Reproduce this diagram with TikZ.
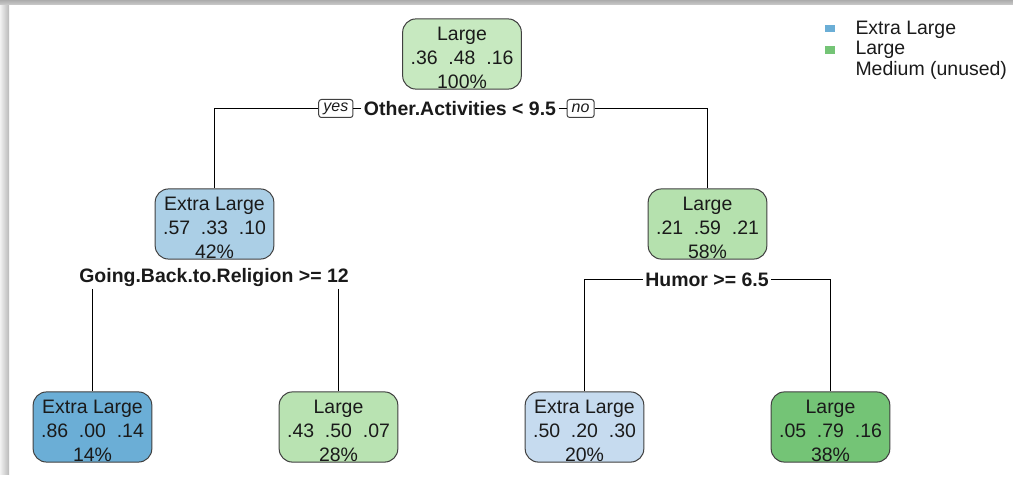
\documentclass[tikz,border=0pt]{standalone}
\usepackage{fontspec}
\setmainfont{Liberation Sans}
\usetikzlibrary{positioning}
\definecolor{ink}{HTML}{1A1A1A}
\definecolor{boxline}{HTML}{404040}
\definecolor{grnroot}{HTML}{C7E9C0}
\definecolor{grnmid}{HTML}{B5E1AE}
\definecolor{grnleaf}{HTML}{B9E3B2}
\definecolor{grndark}{HTML}{74C476}
\definecolor{bluemid}{HTML}{ABCFE6}
\definecolor{bluedark}{HTML}{6BAED6}
\definecolor{bluepale}{HTML}{C6DBEF}
\newcommand\toprow{\rule{0pt}{16.5pt}}

\begin{document}
\begin{tikzpicture}[x=0.75pt,y=-0.75pt,line width=0.75pt,
    box/.style={draw=boxline,rounded corners=10pt,minimum width=89pt,minimum height=50pt,
      inner sep=0pt,align=center,text=ink,font=\fontsize{14.6pt}{18pt}\selectfont},
    split/.style={fill=white,inner xsep=1.5pt,inner ysep=1pt,text=ink,
      font=\bfseries\fontsize{14.6pt}{17pt}\selectfont},
    tag/.style={draw=boxline,fill=white,rounded corners=2pt,inner xsep=3.5pt,inner ysep=0pt,
      minimum height=13.5pt,text=ink,font=\itshape\fontsize{12pt}{14pt}\selectfont},
    key/.style={anchor=west,inner sep=0pt,text=ink,font=\fontsize{14.6pt}{17pt}\selectfont}]
    \useasboundingbox (0,0) rectangle (1013,481);
    % frame shadow
    \shade[left color=gray!10,right color=gray!55] (0,0) rectangle (9,474);
    \shade[top color=gray!65,bottom color=gray!40] (0,0) rectangle (1013,5);

    % tree
    \node[box,fill=grnroot] (root) at (462,54) {\toprow Large\\.36\ \ .48\ \ .16\\100\%};
    \node[split] (otheract) at (460,108.5) {Other.Activities < 9.5};
    \node[tag,left=6pt of otheract] (yes) {yes};
    \node[tag,right=6pt of otheract] (no) {no};
    \node[box,fill=bluemid] (xl42) at (214.5,224) {\toprow Extra Large\\.57\ \ .33\ \ .10\\42\%};
    \node[box,fill=grnmid] (lg58) at (707.5,224) {\toprow Large\\.21\ \ .59\ \ .21\\58\%};
    \node[split] (religion) at (214,278) {Going.Back.to.Religion >= 12};
    \node[split] (humor) at (707,279.5) {Humor >= 6.5};
    \node[box,fill=bluedark] (xl14) at (92.5,427) {\toprow Extra Large\\.86\ \ .00\ \ .14\\14\%};
    \node[box,fill=grnleaf] (lg28) at (338.5,427) {\toprow Large\\.43\ \ .50\ \ .07\\28\%};
    \node[box,fill=bluepale] (xl20) at (584.5,427) {\toprow Extra Large\\.50\ \ .20\ \ .30\\20\%};
    \node[box,fill=grndark] (lg38) at (830.5,427) {\toprow Large\\.05\ \ .79\ \ .16\\38\%};

    \draw (otheract.west) -- (yes.east);
    \draw (yes.west) -| (xl42.north);
    \draw (otheract.east) -- (no.west);
    \draw (no.east) -| (lg58.north);
    \draw (religion.south -| xl14.north) -- (xl14.north);
    \draw (religion.south -| lg28.north) -- (lg28.north);
    \draw (humor.west) -| (xl20.north);
    \draw (humor.east) -| (lg38.north);

    % legend
    \node[fill=bluedark,minimum width=7.5pt,minimum height=5.5pt,inner sep=0pt] (keyxl) at (830,28.5) {};
    \node[fill=grndark,minimum width=7.5pt,minimum height=5.5pt,inner sep=0pt] (keylg) at (830,50) {};
    \node[key] (txtxl) at (855,30) {Extra Large};
    \node[key] (txtlg) at (855,50) {Large};
    \node[key] (txtmd) at (855,70) {Medium (unused)};
\end{tikzpicture}
\end{document}
